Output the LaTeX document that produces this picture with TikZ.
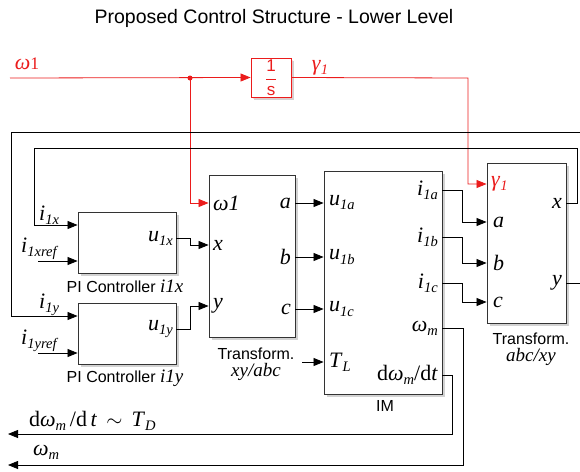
\documentclass[tikz,border=0pt]{standalone}
\usepackage{fontspec}
\setmainfont{Liberation Serif}
\setsansfont{Liberation Sans}
\usepackage{graphicx}
\definecolor{sigred}{RGB}{235, 28, 28}
\usetikzlibrary{arrows.meta, positioning, calc, shadows}

\newcommand{\sbs}[2]{\textit{#1}\raisebox{-0.4ex}{\scalebox{0.66}{\textit{#2}}}}

\begin{document}
\begin{tikzpicture}[
    x=1pt, y=-1pt,
    block/.style={draw=black!80, line width=0.9pt, fill=white, inner sep=0pt,
                  drop shadow={shadow xshift=2.5pt, shadow yshift=-2.5pt, fill=black!35}},
    port/.style={font=\fontsize{22}{22}\selectfont, inner sep=1pt},
    caption/.style={font=\sffamily\fontsize{16}{17}\selectfont, align=center},
    sig/.style={draw, line width=0.8pt, -{Triangle[length=10pt, width=8pt]}},
    redsig/.style={sig, sigred}
]
    \clip (0,0) rectangle (580,471);
    \node[font=\sffamily\fontsize{19.5}{20}\selectfont] (title) at (274,18) {Proposed Control Structure - Lower Level};

    % blocks
    \node[block, draw=sigred, minimum width=40pt, minimum height=39pt,
          drop shadow={shadow xshift=2pt, shadow yshift=-2pt, fill=sigred!30}] (integ) at (271,77.5)
          {\color{sigred}\fontsize{17}{18}\selectfont$\displaystyle\frac{\textsf{1}}{\textsf{s}}$};
    \node[block, minimum width=98pt, minimum height=61pt] (pix) at (127,242.5) {};
    \node[block, minimum width=98pt, minimum height=61pt] (piy) at (127,333.5) {};
    \node[block, minimum width=86pt, minimum height=162pt] (xyabc) at (252,256) {};
    \node[block, minimum width=118pt, minimum height=223pt] (im) at (383,282.5) {};
    \node[block, minimum width=79pt, minimum height=160pt] (abcxy) at (526.5,243) {};

    % captions
    \node[caption] (cpix) at (125,286) {PI Controller {\rmfamily\itshape\fontsize{19}{19}\selectfont i1x}};
    \node[caption] (cpiy) at (125,378) {PI Controller {\rmfamily\itshape\fontsize{19}{19}\selectfont i1y}};
    \node[caption] (cxy) at (256,364) {Transform.\\[0pt]{\rmfamily\itshape\fontsize{19}{19}\selectfont xy/abc}};
    \node[caption] (cim) at (385,406) {IM};
    \node[caption] (cab) at (531,349) {Transform.\\[0pt]{\rmfamily\itshape\fontsize{19}{19}\selectfont abc/xy}};

    % ports
    \node[port, anchor=east] (pux) at (174,238) {\sbs{u}{1x}};
    \node[port, anchor=east] (puy) at (174,329) {\sbs{u}{1y}};

    \node[port, anchor=west] (xyw) at (212,203) {\textit{ω1}};
    \node[port, anchor=west] (xyx) at (212,245) {\textit{x}};
    \node[port, anchor=west] (xyy) at (212,306) {\textit{y}};
    \node[port, anchor=east] (xya) at (292,203) {\textit{a}};
    \node[port, anchor=east] (xyb) at (292,257) {\textit{b}};
    \node[port, anchor=east] (xyc) at (292,309) {\textit{c}};

    \node[port, anchor=west] (imua) at (328,203) {\sbs{u}{1a}};
    \node[port, anchor=west] (imub) at (328,257) {\sbs{u}{1b}};
    \node[port, anchor=west] (imuc) at (328,309) {\sbs{u}{1c}};
    \node[port, anchor=west] (imtl) at (328,362) {\sbs{T}{L}};
    \node[port, anchor=east] (imia) at (439,190) {\sbs{i}{1a}};
    \node[port, anchor=east] (imib) at (439,237) {\sbs{i}{1b}};
    \node[port, anchor=east] (imic) at (439,283) {\sbs{i}{1c}};
    \node[port, anchor=east] (imwm) at (439,328) {\sbs{ω}{m}};
    \node[port, anchor=east] (imdw) at (439,375) {d\sbs{ω}{m}/d\textit{t}};

    \node[port, anchor=west, sigred] (abg) at (490,184) {\sbs{γ}{1}};
    \node[port, anchor=west] (aba) at (492,222) {\textit{a}};
    \node[port, anchor=west] (abb) at (492,263) {\textit{b}};
    \node[port, anchor=west] (abc) at (492,302) {\textit{c}};
    \node[port, anchor=east] (abx) at (563,203) {\textit{x}};
    \node[port, anchor=east] (aby) at (563,283) {\textit{y}};

    % free ends and bends
    \coordinate (w1in) at (10,78);
    \coordinate (jn) at (190,78);
    \coordinate (gturn) at (468,78);
    \coordinate (xref) at (38,261);
    \coordinate (yref) at (38,353);
    \coordinate (tl) at (302,362);
    \coordinate (xup) at (577,148);
    \coordinate (xdown) at (34,225);
    \coordinate (yup) at (583,132);
    \coordinate (ydown) at (11,316);
    \coordinate (dwturn) at (452,434);
    \coordinate (dwout) at (8,434);
    \coordinate (wmturn) at (463,465);
    \coordinate (wmout) at (8,465);

    % outside labels
    \node[port, sigred] (lw1) at (27,64) {\textit{ω}\scalebox{0.8}{1}};
    \node[port, sigred] (lg1) at (320,68) {\sbs{γ}{1}};
    \node[port, anchor=south west] (lix) at (38,226) {\sbs{i}{1x}};
    \node[port, anchor=south west] (lixr) at (20,261) {\sbs{i}{1xref}};
    \node[port, anchor=south west] (liy) at (38,317) {\sbs{i}{1y}};
    \node[port, anchor=south west] (liyr) at (20,353) {\sbs{i}{1yref}};
    \node[port, anchor=west] (ldw) at (28,421) {d\sbs{ω}{m}\,/d\,\textit{t} \,$\sim$\, \sbs{T}{D}};
    \node[port, anchor=west] (lwm) at (32,452) {\sbs{ω}{m}};

    % red signals
    \draw[redsig] (w1in) -- (integ.west);
    \draw[redsig] (jn) |- (xyabc.west |- xyw);
    \fill[sigred] (jn) circle (2.5pt);
    \draw[redsig] (integ.east) -- (gturn) |- (abcxy.west |- abg);

    % black signals
    \draw[sig] (xref) -- (pix.west |- xref);
    \draw[sig] (yref) -- (piy.west |- yref);
    \draw[sig] (pix.east |- pux) -- ++(14,0) |- (xyabc.west |- xyx);
    \draw[sig] (piy.east |- puy) -- ++(14,0) |- (xyabc.west |- xyy);
    \draw[sig] (xyabc.east |- xya) -- (im.west |- imua);
    \draw[sig] (xyabc.east |- xyb) -- (im.west |- imub);
    \draw[sig] (xyabc.east |- xyc) -- (im.west |- imuc);
    \draw[sig] (tl) -- (im.west |- imtl);
    \draw[sig] (im.east |- imia) -- ++(20,0) |- (abcxy.west |- aba);
    \draw[sig] (im.east |- imib) -- ++(20,0) |- (abcxy.west |- abb);
    \draw[sig] (im.east |- imic) -- ++(20,0) |- (abcxy.west |- abc);
    \draw[sig] (im.east |- imdw) -| (dwturn) -- (dwout);
    \draw[sig] (im.east |- imwm) -| (wmturn) -- (wmout);
    \draw[sig] (abcxy.east |- abx) -| (xup) -| (xdown) -- (pix.west |- xdown);
    \draw[sig] (abcxy.east |- aby) -| (yup) -| (ydown) -- (piy.west |- ydown);
\end{tikzpicture}
\end{document}
